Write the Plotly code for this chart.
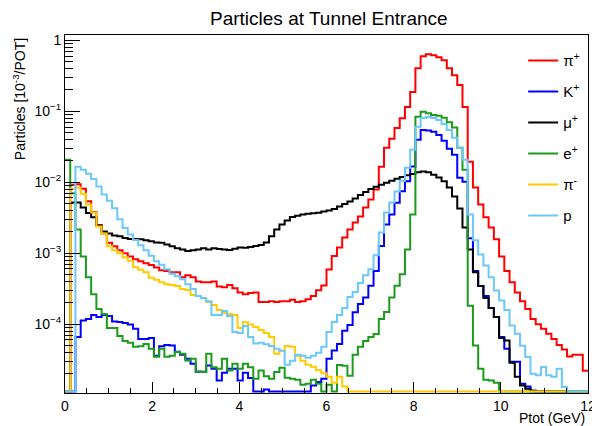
import numpy as np
import plotly.graph_objects as go

# ---- binning (100 bins, 0-12 GeV) ----
x_min, x_max, n_bins = 0.0, 12.0, 100

# ---- series values (particles per 1e-3 POT), one per bin ----
pi_plus = [0, 9.2e-3, 9.4e-3, 8.1e-3, 5.4e-3, 3.8e-3, 2.5e-3, 1.9e-3, 1.4e-3, 1.25e-3,
           1.1e-3, 1.0e-3, 9.0e-4, 8.2e-4, 7.7e-4, 7.2e-4, 6.8e-4, 6.3e-4, 5.75e-4, 5.6e-4,
           5.4e-4, 5.4e-4, 4.6e-4, 4.9e-4, 4.6e-4, 4.0e-4, 3.9e-4, 3.9e-4, 4.0e-4, 3.4e-4,
           3.3e-4, 3.55e-4, 3.2e-4, 2.8e-4, 2.65e-4, 2.75e-4, 2.8e-4, 2.05e-4, 2.05e-4, 2.1e-4,
           2.05e-4, 2.1e-4, 2.1e-4, 2.2e-4, 2.05e-4, 2.1e-4, 2.25e-4, 2.5e-4, 3.0e-4, 3.5e-4,
           5.9e-4, 9.1e-4, 1.2e-3, 1.67e-3, 2.15e-3, 2.7e-3, 3.3e-3, 4.4e-3, 5.7e-3, 7.9e-3,
           1.66e-2, 3.06e-2, 4.1e-2, 5.8e-2, 8.0e-2, 0.115, 0.187, 0.405, 0.597, 0.637,
           0.616, 0.578, 0.524, 0.405, 0.323, 0.234, 0.115, 1.95e-2, 8.4e-3, 4.85e-3,
           3.2e-3, 2.3e-3, 1.57e-3, 9.0e-4, 5.6e-4, 3.9e-4, 2.8e-4, 2.1e-4, 1.63e-4, 1.18e-4,
           1.0e-4, 8.6e-5, 7.3e-5, 6.2e-5, 5.1e-5, 4.4e-5, 3.5e-5, 3.7e-5, 3.7e-5, 2.2e-5]

k_plus = [0, 0, 6.6e-5, 1.13e-4, 1.18e-4, 1.35e-4, 1.26e-4, 1.35e-4, 1.30e-4, 1.09e-4,
          1.07e-4, 1.04e-4, 9.9e-5, 8.6e-5, 6.2e-5, 6.2e-5, 6.4e-5, 3.6e-5, 4.9e-5, 5.1e-5,
          5.0e-5, 4.1e-5, 3.7e-5, 3.25e-5, 2.77e-5, 2.14e-5, 2.14e-5, 2.62e-5, 2.35e-5, 1.61e-5,
          2.07e-5, 2.35e-5, 2.35e-5, 1.61e-5, 2.07e-5, 1.74e-5, 0, 0, 1.2e-5, 0,
          0, 0, 0, 0, 0, 0, 0, 1.37e-5, 1.53e-5, 1.70e-5,
          3.25e-5, 4.25e-5, 5.27e-5, 8.1e-5, 9.75e-5, 1.47e-4, 1.92e-4, 2.38e-4, 3.47e-4, 5.62e-4,
          1.26e-3, 2.54e-3, 3.51e-3, 5.13e-3, 7.45e-3, 1.03e-2, 1.67e-2, 3.96e-2, 5.47e-2, 5.38e-2,
          5.13e-2, 4.65e-2, 3.83e-2, 2.96e-2, 2.44e-2, 1.16e-2, 1.02e-2, 1.62e-3, 5.6e-4, 3.44e-4,
          2.49e-4, 1.69e-4, 1.26e-4, 6.6e-5, 4.49e-5, 2.95e-5, 2.95e-5, 1.45e-5, 1.32e-5, 1.16e-5,
          0, 0, 0, 0, 0, 0, 0, 0, 0, 0]

mu_plus = [0, 5.2e-3, 5.2e-3, 4.4e-3, 3.7e-3, 3.2e-3, 2.46e-3, 2.03e-3, 1.90e-3, 1.78e-3,
           1.73e-3, 1.64e-3, 1.59e-3, 1.59e-3, 1.57e-3, 1.52e-3, 1.47e-3, 1.42e-3, 1.40e-3, 1.33e-3,
           1.25e-3, 1.17e-3, 1.13e-3, 1.07e-3, 1.10e-3, 1.13e-3, 1.17e-3, 1.13e-3, 1.17e-3, 1.15e-3,
           1.13e-3, 1.11e-3, 1.16e-3, 1.20e-3, 1.19e-3, 1.22e-3, 1.26e-3, 1.31e-3, 1.42e-3, 1.73e-3,
           2.16e-3, 2.54e-3, 2.89e-3, 3.24e-3, 3.37e-3, 3.51e-3, 3.59e-3, 3.67e-3, 3.72e-3, 3.87e-3,
           4.0e-3, 4.2e-3, 4.55e-3, 4.93e-3, 5.35e-3, 5.89e-3, 6.59e-3, 7.26e-3, 8.0e-3, 8.67e-3,
           9.25e-3, 9.87e-3, 1.05e-2, 1.12e-2, 1.19e-2, 1.25e-2, 1.31e-2, 1.38e-2, 1.42e-2, 1.38e-2,
           1.28e-2, 1.17e-2, 1.03e-2, 8.4e-3, 6.3e-3, 4.26e-3, 2.31e-3, 1.13e-3, 5.4e-4, 3.44e-4,
           2.33e-4, 1.69e-4, 1.26e-4, 6.4e-5, 5.9e-5, 2.86e-5, 1.82e-5, 1.37e-5, 1.23e-5, 0,
           0, 0, 0, 0, 0, 0, 0, 0, 0, 0]

e_plus = [2.07e-2, 7.0e-3, 2.16e-3, 9.0e-4, 4.6e-4, 2.65e-4, 1.63e-4, 1.39e-4, 8.85e-5, 8.85e-5,
          6.82e-5, 5.81e-5, 5.45e-5, 4.79e-5, 4.87e-5, 5.27e-5, 4.49e-5, 3.47e-5, 4.49e-5, 3.47e-5,
          3.58e-5, 4.05e-5, 3.82e-5, 3.08e-5, 3.25e-5, 2.16e-5, 2.12e-5, 3.82e-5, 2.48e-5, 2.35e-5,
          3.25e-5, 2.23e-5, 2.77e-5, 2.35e-5, 2.77e-5, 2.48e-5, 1.70e-5, 2.23e-5, 1.84e-5, 1.70e-5,
          2.12e-5, 2.43e-5, 1.76e-5, 1.70e-5, 1.65e-5, 1.40e-5, 1.45e-5, 1.65e-5, 1.45e-5, 0,
          1.40e-5, 0, 2.65e-5, 2.6e-5, 1.88e-5, 3.70e-5, 4.79e-5, 5.81e-5, 6.6e-5, 7.29e-5,
          1.18e-4, 1.48e-4, 2.38e-4, 3.47e-4, 5.06e-4, 1.13e-3, 3.51e-3, 8.4e-2, 9.87e-2, 9.38e-2,
          8.87e-2, 8.67e-2, 8.13e-2, 7.01e-2, 5.89e-2, 3.06e-2, 1.50e-2, 1.82e-4, 4.99e-5, 2.35e-5,
          1.65e-5, 1.61e-5, 1.5e-5, 0, 0, 0, 0, 0, 0, 0,
          0, 0, 0, 0, 0, 0, 0, 0, 0, 0]

pi_minus = [0, 8.1e-3, 8.4e-3, 6.9e-3, 4.85e-3, 3.75e-3, 2.38e-3, 1.90e-3, 1.25e-3, 1.10e-3,
            1.0e-3, 8.75e-4, 7.82e-4, 6.34e-4, 5.85e-4, 5.4e-4, 4.52e-4, 4.24e-4, 3.91e-4, 3.66e-4,
            3.55e-4, 3.44e-4, 3.12e-4, 3.02e-4, 2.57e-4, 2.49e-4, 2.33e-4, 2.05e-4, 1.86e-4, 1.58e-4,
            1.44e-4, 1.39e-4, 1.35e-4, 8.85e-5, 1.06e-4, 9.9e-5, 9.14e-5, 8.3e-5, 7.53e-5, 6.6e-5,
            3.82e-5, 4.21e-5, 4.94e-5, 4.79e-5, 3.58e-5, 3.05e-5, 2.68e-5, 2.51e-5, 2.24e-5, 2.04e-5,
            1.82e-5, 1.50e-5, 1.82e-5, 1.32e-5, 0, 0, 0, 0, 0, 0,
            0, 0, 0, 0, 0, 0, 0, 0, 0, 0,
            0, 0, 0, 0, 0, 0, 0, 0, 0, 0,
            0, 0, 0, 0, 0, 0, 0, 0, 0, 0,
            0, 0, 0, 0, 0, 0, 0, 0, 0, 0]

proton = [0, 0, 1.66e-2, 1.5e-2, 1.32e-2, 1.11e-2, 8.7e-3, 6.7e-3, 5.5e-3, 4.3e-3,
          3.0e-3, 2.27e-3, 1.84e-3, 1.54e-3, 1.29e-3, 1.10e-3, 9.2e-4, 7.7e-4, 6.88e-4, 5.94e-4,
          5.14e-4, 4.74e-4, 4.31e-4, 3.66e-4, 3.12e-4, 2.49e-4, 2.33e-4, 2.11e-4, 1.35e-4, 1.35e-4,
          1.53e-4, 1.30e-4, 7.78e-5, 7.53e-5, 9.44e-5, 6.6e-5, 5.36e-5, 5.45e-5, 5.2e-5, 4.94e-5,
          4.49e-5, 4.21e-5, 2.68e-5, 3.05e-5, 3.70e-5, 3.58e-5, 3.36e-5, 3.58e-5, 3.94e-5, 4.79e-5,
          7.78e-5, 1.07e-4, 1.35e-4, 1.69e-4, 2.41e-4, 2.83e-4, 3.79e-4, 4.9e-4, 5.94e-4, 9.35e-4,
          1.96e-3, 3.75e-3, 5.18e-3, 7.38e-3, 1.05e-2, 1.60e-2, 2.87e-2, 6.03e-2, 8.05e-2, 8.32e-2,
          8.05e-2, 7.55e-2, 6.64e-2, 5.47e-2, 4.22e-2, 3.06e-2, 2.07e-2, 3.51e-3, 1.52e-3, 9.6e-4,
          6.7e-4, 4.6e-4, 2.98e-4, 2.15e-4, 1.58e-4, 9.6e-5, 7.3e-5, 4.98e-5, 3.45e-5, 2.0e-5,
          1.9e-5, 2.5e-5, 1.9e-5, 1.82e-5, 2.35e-5, 1.3e-5, 0, 0, 0, 0]

series_names = ["π<sup>+</sup>", "K<sup>+</sup>", "μ<sup>+</sup>", "e<sup>+</sup>", "π<sup>-</sup>", "p"]
series_values = [pi_plus, k_plus, mu_plus, e_plus, pi_minus, proton]
series_colors = ["#ff0000", "#0000ff", "#000000", "#1c9c1c", "#ffcc00", "#6cc8f8"]

x_tick_vals = [0, 2, 4, 6, 8, 10, 12]
y_tick_vals = [1e-4, 1e-3, 1e-2, 1e-1, 1]
y_tick_text = ["10<sup>−4</sup>", "10<sup>−3</sup>", "10<sup>−2</sup>", "10<sup>−1</sup>", "1"]

# ---- figure ----
y_log_min, y_log_max = -4.97, 0.075
floor = 10 ** (y_log_min + 0.02)  # empty bins are drawn on the frame bottom, like ROOT

edges = np.linspace(x_min, x_max, n_bins + 1)
FONT = "Liberation Sans, Arial, Helvetica, sans-serif"

fig = go.Figure()
for i, (name, vals, col) in enumerate(zip(series_names, series_values, series_colors)):
    v = np.array(vals, dtype=float)
    v = np.where(v > 0, v, floor)
    yv = np.append(v, v[-1])
    fig.add_trace(go.Scatter(
        x=edges, y=yv, mode="lines", name=name,
        line=dict(color=col, width=2, shape="hv"),
        legendgroup=f"g{i}", hoverinfo="skip",
    ))

minor_y = [m * 10.0 ** e for e in range(-6, 1) for m in range(2, 10)
           if y_log_min <= np.log10(m * 10.0 ** e) <= y_log_max]

# the page body has an 8px margin, so margins are shifted to compensate
fig.update_layout(
    width=600, height=418,
    margin=dict(l=57, r=15, t=27, b=32, pad=0),
    paper_bgcolor="white", plot_bgcolor="white",
    font=dict(family=FONT, size=14, color="black"),
    showlegend=True,
    legend=dict(
        x=0.876, y=0.974, xanchor="left", yanchor="top",
        bgcolor="rgba(0,0,0,0)", borderwidth=0,
        font=dict(family=FONT, size=15, color="black"),
        tracegroupgap=8.5, itemwidth=30,
    ),
    xaxis=dict(
        range=[x_min, x_max], showgrid=False, zeroline=False,
        showline=True, linecolor="black", linewidth=1, mirror=True,
        ticks="inside", ticklen=11, tickwidth=1, tickcolor="black",
        tickvals=x_tick_vals, ticktext=[str(t) for t in x_tick_vals],
        tickfont=dict(family=FONT, size=14), ticklabeloverflow="allow",
        minor=dict(ticks="inside", ticklen=5, tickwidth=1, tickcolor="black",
                   tickmode="linear", tick0=0, dtick=0.5, showgrid=False),
    ),
    yaxis=dict(
        type="log", range=[y_log_min, y_log_max], showgrid=False, zeroline=False,
        showline=True, linecolor="black", linewidth=1, mirror=True,
        ticks="inside", ticklen=15, tickwidth=1, tickcolor="black",
        tickvals=y_tick_vals, ticktext=y_tick_text,
        tickfont=dict(family=FONT, size=14),
        minor=dict(ticks="inside", ticklen=8, tickwidth=1, tickcolor="black",
                   tickmode="array", tickvals=minor_y, showgrid=False),
    ),
    annotations=[
        dict(text="Particles at Tunnel Entrance", xref="paper", yref="paper",
             x=0.505, y=1.047, xanchor="center", yanchor="middle", showarrow=False,
             font=dict(family=FONT, size=19, color="black")),
        dict(text="Particles [10<sup>-3</sup>/POT]", xref="paper", yref="paper",
             x=-0.089, y=0.822, xanchor="center", yanchor="middle", showarrow=False,
             textangle=-90, font=dict(family=FONT, size=14, color="black")),
        dict(text="Ptot (GeV)", xref="paper", yref="paper",
             x=0.998, y=-0.071, xanchor="right", yanchor="middle", showarrow=False,
             font=dict(family=FONT, size=14, color="black")),
    ],
)

fig.write_html("out.html")
